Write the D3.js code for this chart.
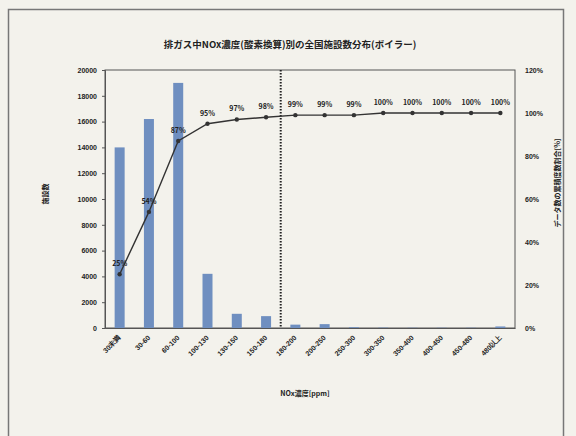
<!DOCTYPE html>
<html>
<head>
<meta charset="utf-8">
<script src="https://cdn.jsdelivr.net/npm/d3@7"></script>
<style>
  body { margin: 0; background: #f3f2ec; }
  svg { display: block; font-family: 'Noto Sans CJK JP', 'Noto Sans', sans-serif; }
  .tick text { fill: #222; font-weight: bold; }
</style>
</head>
<body>
<div id="chart"></div>
<script>
const categories = ['30未満', '30-60', '60-100', '100-130', '130-150', '150-180', '180-200',
  '200-250', '250-300', '300-350', '350-400', '400-450', '450-480', '480以上']
const counts = [14000, 16200, 19000, 4200, 1100, 920, 260, 300, 60, 30, 20, 20, 20, 120]
const cumPct = [25, 54, 87, 95, 97, 98, 99, 99, 99, 100, 100, 100, 100, 100]
const countTicks = d3.range(0, 20001, 2000)
const pctTicks = d3.range(0, 121, 20)
const cutoffAfter = '150-180'

const width = 576
const height = 436
const margin = {top: 70, right: 61, bottom: 108, left: 105}
const graphWidth = width - margin.left - margin.right
const graphHeight = height - margin.top - margin.bottom

const svg = d3.select('#chart').append('svg')
  .attr('width', width)
  .attr('height', height)

// outer frame of the scanned sheet
svg.append('path')
  .attr('d', `M8.5,${height} V9.5 H563.5 V${height}`)
  .attr('fill', 'none')
  .attr('stroke', '#777')
  .attr('stroke-width', 1.5)

const x = d3.scaleBand().domain(categories).range([0, graphWidth])
const yCount = d3.scaleLinear().domain([0, 20000]).range([graphHeight, 0])
const yPct = d3.scaleLinear().domain([0, 120]).range([graphHeight, 0])

const g = svg.append('g').attr('transform', `translate(${margin.left},${margin.top})`)

g.append('rect')
  .attr('width', graphWidth)
  .attr('height', graphHeight)
  .attr('fill', 'none')
  .attr('stroke', '#555')
  .attr('stroke-width', 1)

g.append('g')
  .selectAll('rect')
  .data(counts)
  .enter()
  .append('rect')
  .attr('x', (d, i) => x(categories[i]) + x.bandwidth() / 2 - 5)
  .attr('y', d => yCount(d))
  .attr('width', 10)
  .attr('height', d => graphHeight - yCount(d))
  .attr('fill', '#6f8fc0')

const leftAxis = g.append('g')
  .call(d3.axisLeft(yCount).tickValues(countTicks).tickFormat(d3.format('d')).tickSize(3).tickPadding(5))
leftAxis.select('.domain').attr('stroke', '#555')
leftAxis.selectAll('.tick line').attr('stroke', '#555')
leftAxis.selectAll('text').attr('font-size', 7)

const rightAxis = g.append('g')
  .attr('transform', `translate(${graphWidth},0)`)
  .call(d3.axisRight(yPct).tickValues(pctTicks).tickFormat(d => d + '%').tickSize(0).tickPadding(10))
rightAxis.select('.domain').remove()
rightAxis.selectAll('text').attr('font-size', 7)

const bottomAxis = g.append('g')
  .attr('transform', `translate(0,${graphHeight})`)
  .call(d3.axisBottom(x).tickSize(0))
bottomAxis.select('.domain').attr('stroke', '#555')
bottomAxis.selectAll('text')
  .attr('font-size', 7)
  .attr('text-anchor', 'end')
  .attr('x', -6)
  .attr('y', 6)
  .attr('dy', '0.35em')
  .attr('transform', 'rotate(-45)')

// cutoff line between categories
const cx = x(cutoffAfter) + x.bandwidth()
g.append('line')
  .attr('x1', cx).attr('x2', cx)
  .attr('y1', 0).attr('y2', graphHeight)
  .attr('stroke', '#222')
  .attr('stroke-width', 2)
  .attr('stroke-dasharray', '1.5,1.5')

const line = d3.line()
  .x((d, i) => x(categories[i]) + x.bandwidth() / 2)
  .y(d => yPct(d))

g.append('path')
  .datum(cumPct)
  .attr('d', line)
  .attr('fill', 'none')
  .attr('stroke', '#333')
  .attr('stroke-width', 1.4)

g.append('g')
  .selectAll('circle')
  .data(cumPct)
  .enter()
  .append('circle')
  .attr('cx', (d, i) => x(categories[i]) + x.bandwidth() / 2)
  .attr('cy', d => yPct(d))
  .attr('r', 2.2)
  .attr('fill', '#333')

g.append('g')
  .selectAll('text')
  .data(cumPct)
  .enter()
  .append('text')
  .attr('x', (d, i) => x(categories[i]) + x.bandwidth() / 2)
  .attr('y', d => yPct(d) - 8)
  .attr('text-anchor', 'middle')
  .attr('font-size', 7)
  .attr('font-weight', 'bold')
  .attr('fill', '#222')
  .text(d => d + '%')

svg.append('text')
  .attr('x', 290)
  .attr('y', 48)
  .attr('text-anchor', 'middle')
  .attr('font-size', 9.5)
  .attr('font-weight', 'bold')
  .attr('fill', '#222')
  .text('排ガス中NOx濃度(酸素換算)別の全国施設数分布(ボイラー)')

svg.append('text')
  .attr('transform', 'translate(48,194) rotate(-90)')
  .attr('text-anchor', 'middle')
  .attr('font-size', 7)
  .attr('font-weight', 'bold')
  .attr('fill', '#222')
  .text('施設数')

svg.append('text')
  .attr('transform', 'translate(560,183) rotate(-90)')
  .attr('text-anchor', 'middle')
  .attr('font-size', 7)
  .attr('font-weight', 'bold')
  .attr('fill', '#222')
  .text('データ数の累積度数割合[%]')

svg.append('text')
  .attr('x', 305)
  .attr('y', 396)
  .attr('text-anchor', 'middle')
  .attr('font-size', 7)
  .attr('font-weight', 'bold')
  .attr('fill', '#222')
  .text('NOx濃度[ppm]')
</script>
</body>
</html>
